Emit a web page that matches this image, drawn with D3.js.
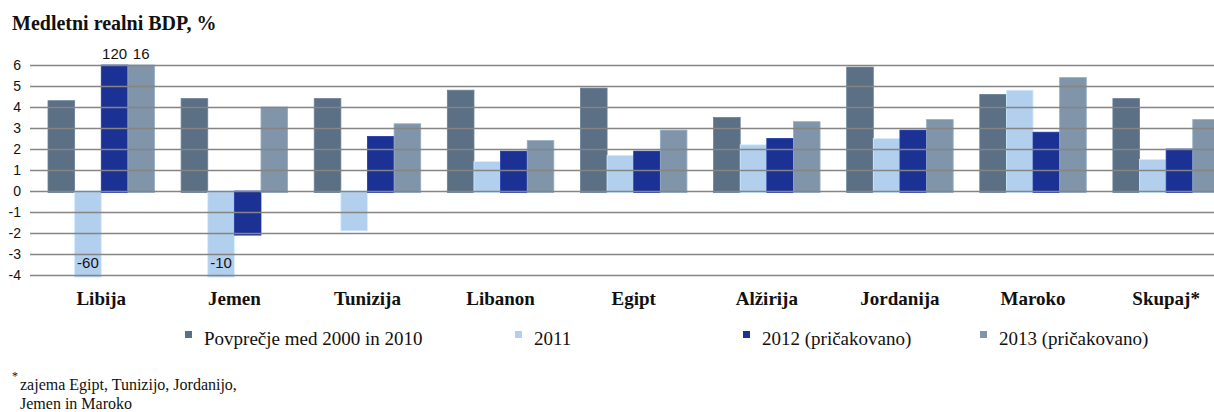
<!DOCTYPE html>
<html>
<head>
<meta charset="utf-8">
<script src="https://cdn.jsdelivr.net/npm/d3@7"></script>
<style>
  html, body { margin: 0; padding: 0; background: #fff; }
  svg { display: block; }
  .serif { font-family: "Liberation Serif", "Times New Roman", serif; }
  .sans { font-family: "Liberation Sans", Arial, sans-serif; }
</style>
</head>
<body>
<svg id="chart" width="1214" height="412"></svg>
<script>
const categories = ["Libija", "Jemen", "Tunizija", "Libanon", "Egipt", "Alžirija", "Jordanija", "Maroko", "Skupaj*"];
const seriesNames = ["Povprečje med 2000 in 2010", "2011", "2012 (pričakovano)", "2013 (pričakovano)"];
const avg2000_2010 = [4.3, 4.4, 4.4, 4.8, 4.9, 3.5, 5.9, 4.6, 4.4];
const y2011 = [-60, -10, -1.9, 1.4, 1.7, 2.2, 2.5, 4.8, 1.5];
const y2012 = [120, -2.1, 2.6, 1.9, 1.9, 2.5, 2.9, 2.8, 2.0];
const y2013 = [16, 4.0, 3.2, 2.4, 2.9, 3.3, 3.4, 5.4, 3.4];
const yTicks = [6, 5, 4, 3, 2, 1, 0, -1, -2, -3, -4];
const colors = ["#5b6f85", "#b3cfee", "#1b3193", "#8195aa"];
const title = "Medletni realni BDP, %";
const footnote = ["zajema Egipt, Tunizijo, Jordanijo,", "Jemen in Maroko"];

const series = [avg2000_2010, y2011, y2012, y2013];
const svg = d3.select("#chart");

const y = d3.scaleLinear().domain([-4, 6]).range([275, 65]);
const x0 = d3.scaleBand().domain(categories).range([34.7, 1232.7]).paddingInner(0.2).paddingOuter(0.1);
const x1 = d3.scaleBand().domain(d3.range(4)).range([0, x0.bandwidth()]);

// Title
svg.append("text").attr("class", "serif").attr("x", 12).attr("y", 30)
  .style("font-weight", "bold").style("font-size", "20px").attr("fill", "#111").text(title);

// Bars
const clampV = v => Math.max(-4.1, Math.min(6, v));
const groups = svg.append("g").selectAll("g").data(categories).join("g")
  .attr("transform", d => `translate(${x0(d)},0)`);
groups.selectAll("rect").data((d, i) => series.map((s, k) => ({k, v: s[i]})))
  .join("rect")
  .attr("x", d => x1(d.k))
  .attr("width", x1.bandwidth())
  .attr("y", d => d.v >= 0 ? y(clampV(d.v)) : y(0))
  .attr("height", d => Math.abs(y(clampV(d.v)) - y(0)) + (d.v >= 0 ? 1.5 : 0))
  .attr("fill", d => colors[d.k])
  .attr("stroke", d => d3.color(colors[d.k]).brighter(0.4))
  .attr("stroke-width", 0.8);

// Grid lines (drawn over bars)
svg.append("g").selectAll("line").data(yTicks).join("line")
  .attr("x1", 30).attr("x2", 1214)
  .attr("y1", d => Math.round(y(d)) + 0.5).attr("y2", d => Math.round(y(d)) + 0.5)
  .attr("stroke", "#858585").attr("stroke-width", 1.6);

// Y axis labels
const yAxis = d3.axisLeft(y).tickValues(yTicks).tickSize(0).tickPadding(0).tickFormat(d => String(d));
const ya = svg.append("g").attr("transform", "translate(21,0)").call(yAxis);
ya.select(".domain").remove();
ya.selectAll("text").attr("class", "sans").style("font-size", "14px").attr("fill", "#111");

// Out-of-range value labels
const labelData = [];
categories.forEach((c, i) => series.forEach((s, k) => {
  const v = s[i];
  if (v > 6 || v < -4) labelData.push({c, k, v});
}));
svg.append("g").selectAll("text").data(labelData).join("text")
  .attr("class", "sans")
  .attr("x", d => x0(d.c) + x1(d.k) + x1.bandwidth() / 2)
  .attr("y", d => d.v > 6 ? y(6) - 6 : y(-4) - 7)
  .attr("text-anchor", "middle")
  .style("font-size", "15px").attr("fill", "#111")
  .text(d => String(d.v));

// Category labels
const xAxis = d3.axisBottom(x0).tickSize(0).tickPadding(0);
const xa = svg.append("g").attr("transform", "translate(0,291)").call(xAxis);
xa.select(".domain").remove();
xa.selectAll("text").attr("class", "serif").style("font-weight", "bold")
  .style("font-size", "19px").attr("fill", "#111").attr("dy", "0.75em");

// Legend
const legendX = [185, 515, 743, 980];
const lg = svg.append("g").selectAll("g").data(seriesNames).join("g")
  .attr("transform", (d, i) => `translate(${legendX[i]},0)`);
lg.append("rect").attr("x", 0).attr("y", 331).attr("width", 7).attr("height", 7)
  .attr("fill", (d, i) => colors[i]);
lg.append("text").attr("class", "serif").attr("x", 19).attr("y", 345)
  .style("font-size", "19px").attr("fill", "#111")
  .text(d => d);

// Footnote
svg.append("text").attr("class", "serif").attr("x", 12).attr("y", 380)
  .style("font-size", "12px").attr("fill", "#111").text("*");
footnote.forEach((t, i) => {
  svg.append("text").attr("class", "serif").attr("x", 20).attr("y", 390 + i * 19)
    .style("font-size", "16px").attr("fill", "#111")
    .text(t);
});
</script>
</body>
</html>
